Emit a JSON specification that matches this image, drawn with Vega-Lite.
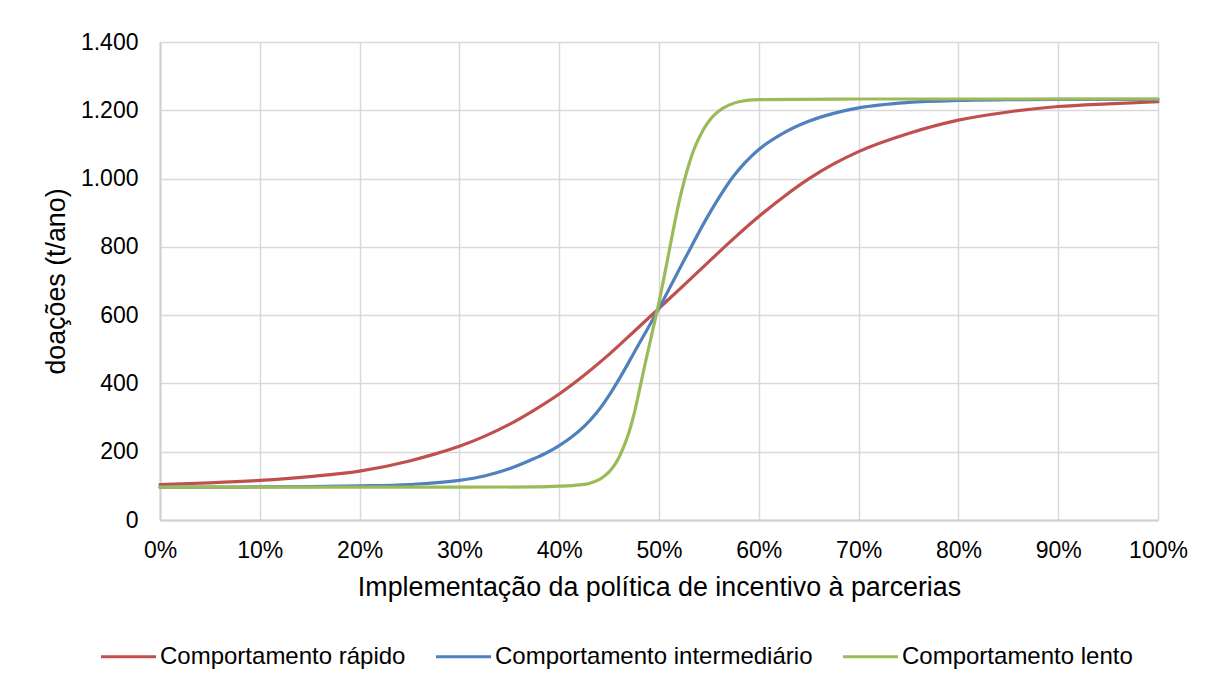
{
  "$schema": "https://vega.github.io/schema/vega-lite/v6.json",
  "width": 998,
  "height": 478,
  "autosize": "none",
  "padding": {"left": 160, "top": 42, "right": 47, "bottom": 160},
  "background": "#ffffff",
  "config": {
    "font": "Liberation Sans",
    "view": {"stroke": null},
    "locale": {
      "number": {"decimal": ",", "thousands": ".", "grouping": [3], "currency": ["R$", ""]}
    },
    "axis": {
      "labelFont": "Liberation Sans",
      "labelFontSize": 23,
      "labelColor": "#000000",
      "labelFlush": false,
      "labelOverlap": false,
      "titleFont": "Liberation Sans",
      "titleFontSize": 26.8,
      "titleFontWeight": "normal",
      "titleColor": "#000000",
      "gridColor": "#d9d9d9",
      "gridWidth": 1.5,
      "domainColor": "#d0d0d0",
      "domainWidth": 2,
      "ticks": false
    },
    "legend": {
      "labelFont": "Liberation Sans",
      "labelFontSize": 24,
      "labelColor": "#000000",
      "labelLimit": 500
    }
  },
  "data": {
    "values": [
      {"p": 0.00, "v": 104, "s": "Comportamento rápido"},
      {"p": 0.05, "v": 109, "s": "Comportamento rápido"},
      {"p": 0.10, "v": 116, "s": "Comportamento rápido"},
      {"p": 0.15, "v": 127, "s": "Comportamento rápido"},
      {"p": 0.20, "v": 143, "s": "Comportamento rápido"},
      {"p": 0.25, "v": 173, "s": "Comportamento rápido"},
      {"p": 0.275, "v": 193, "s": "Comportamento rápido"},
      {"p": 0.30, "v": 216, "s": "Comportamento rápido"},
      {"p": 0.325, "v": 245, "s": "Comportamento rápido"},
      {"p": 0.35, "v": 280, "s": "Comportamento rápido"},
      {"p": 0.375, "v": 322, "s": "Comportamento rápido"},
      {"p": 0.40, "v": 369, "s": "Comportamento rápido"},
      {"p": 0.425, "v": 424, "s": "Comportamento rápido"},
      {"p": 0.45, "v": 485, "s": "Comportamento rápido"},
      {"p": 0.475, "v": 552, "s": "Comportamento rápido"},
      {"p": 0.50, "v": 620, "s": "Comportamento rápido"},
      {"p": 0.525, "v": 688, "s": "Comportamento rápido"},
      {"p": 0.55, "v": 757, "s": "Comportamento rápido"},
      {"p": 0.575, "v": 825, "s": "Comportamento rápido"},
      {"p": 0.60, "v": 889, "s": "Comportamento rápido"},
      {"p": 0.625, "v": 947, "s": "Comportamento rápido"},
      {"p": 0.65, "v": 999, "s": "Comportamento rápido"},
      {"p": 0.675, "v": 1043, "s": "Comportamento rápido"},
      {"p": 0.70, "v": 1079, "s": "Comportamento rápido"},
      {"p": 0.75, "v": 1132, "s": "Comportamento rápido"},
      {"p": 0.80, "v": 1171, "s": "Comportamento rápido"},
      {"p": 0.85, "v": 1195, "s": "Comportamento rápido"},
      {"p": 0.90, "v": 1211, "s": "Comportamento rápido"},
      {"p": 0.95, "v": 1219, "s": "Comportamento rápido"},
      {"p": 1.00, "v": 1225, "s": "Comportamento rápido"},

      {"p": 0.00, "v": 96, "s": "Comportamento intermediário"},
      {"p": 0.05, "v": 96, "s": "Comportamento intermediário"},
      {"p": 0.10, "v": 97, "s": "Comportamento intermediário"},
      {"p": 0.15, "v": 98, "s": "Comportamento intermediário"},
      {"p": 0.20, "v": 100, "s": "Comportamento intermediário"},
      {"p": 0.25, "v": 104, "s": "Comportamento intermediário"},
      {"p": 0.30, "v": 116, "s": "Comportamento intermediário"},
      {"p": 0.325, "v": 129, "s": "Comportamento intermediário"},
      {"p": 0.35, "v": 150, "s": "Comportamento intermediário"},
      {"p": 0.375, "v": 180, "s": "Comportamento intermediário"},
      {"p": 0.3875, "v": 197, "s": "Comportamento intermediário"},
      {"p": 0.40, "v": 218, "s": "Comportamento intermediário"},
      {"p": 0.4125, "v": 243, "s": "Comportamento intermediário"},
      {"p": 0.425, "v": 274, "s": "Comportamento intermediário"},
      {"p": 0.4375, "v": 314, "s": "Comportamento intermediário"},
      {"p": 0.45, "v": 365, "s": "Comportamento intermediário"},
      {"p": 0.4625, "v": 425, "s": "Comportamento intermediário"},
      {"p": 0.475, "v": 490, "s": "Comportamento intermediário"},
      {"p": 0.50, "v": 620, "s": "Comportamento intermediário"},
      {"p": 0.525, "v": 760, "s": "Comportamento intermediário"},
      {"p": 0.55, "v": 895, "s": "Comportamento intermediário"},
      {"p": 0.575, "v": 1008, "s": "Comportamento intermediário"},
      {"p": 0.60, "v": 1085, "s": "Comportamento intermediário"},
      {"p": 0.625, "v": 1134, "s": "Comportamento intermediário"},
      {"p": 0.65, "v": 1168, "s": "Comportamento intermediário"},
      {"p": 0.675, "v": 1191, "s": "Comportamento intermediário"},
      {"p": 0.70, "v": 1207, "s": "Comportamento intermediário"},
      {"p": 0.75, "v": 1223, "s": "Comportamento intermediário"},
      {"p": 0.80, "v": 1229, "s": "Comportamento intermediário"},
      {"p": 0.85, "v": 1231, "s": "Comportamento intermediário"},
      {"p": 0.90, "v": 1232, "s": "Comportamento intermediário"},
      {"p": 1.00, "v": 1232, "s": "Comportamento intermediário"},

      {"p": 0.00, "v": 96, "s": "Comportamento lento"},
      {"p": 0.10, "v": 96, "s": "Comportamento lento"},
      {"p": 0.20, "v": 96, "s": "Comportamento lento"},
      {"p": 0.30, "v": 96, "s": "Comportamento lento"},
      {"p": 0.38, "v": 97, "s": "Comportamento lento"},
      {"p": 0.40, "v": 99, "s": "Comportamento lento"},
      {"p": 0.42, "v": 103, "s": "Comportamento lento"},
      {"p": 0.43, "v": 107, "s": "Comportamento lento"},
      {"p": 0.435, "v": 112, "s": "Comportamento lento"},
      {"p": 0.44, "v": 118, "s": "Comportamento lento"},
      {"p": 0.445, "v": 128, "s": "Comportamento lento"},
      {"p": 0.45, "v": 141, "s": "Comportamento lento"},
      {"p": 0.455, "v": 159, "s": "Comportamento lento"},
      {"p": 0.46, "v": 184, "s": "Comportamento lento"},
      {"p": 0.465, "v": 217, "s": "Comportamento lento"},
      {"p": 0.47, "v": 258, "s": "Comportamento lento"},
      {"p": 0.475, "v": 310, "s": "Comportamento lento"},
      {"p": 0.48, "v": 375, "s": "Comportamento lento"},
      {"p": 0.485, "v": 443, "s": "Comportamento lento"},
      {"p": 0.49, "v": 508, "s": "Comportamento lento"},
      {"p": 0.495, "v": 572, "s": "Comportamento lento"},
      {"p": 0.50, "v": 638, "s": "Comportamento lento"},
      {"p": 0.505, "v": 710, "s": "Comportamento lento"},
      {"p": 0.51, "v": 785, "s": "Comportamento lento"},
      {"p": 0.515, "v": 860, "s": "Comportamento lento"},
      {"p": 0.52, "v": 930, "s": "Comportamento lento"},
      {"p": 0.525, "v": 990, "s": "Comportamento lento"},
      {"p": 0.53, "v": 1042, "s": "Comportamento lento"},
      {"p": 0.535, "v": 1085, "s": "Comportamento lento"},
      {"p": 0.54, "v": 1118, "s": "Comportamento lento"},
      {"p": 0.545, "v": 1146, "s": "Comportamento lento"},
      {"p": 0.55, "v": 1168, "s": "Comportamento lento"},
      {"p": 0.555, "v": 1185, "s": "Comportamento lento"},
      {"p": 0.56, "v": 1198, "s": "Comportamento lento"},
      {"p": 0.57, "v": 1215, "s": "Comportamento lento"},
      {"p": 0.58, "v": 1225, "s": "Comportamento lento"},
      {"p": 0.60, "v": 1231, "s": "Comportamento lento"},
      {"p": 0.70, "v": 1233, "s": "Comportamento lento"},
      {"p": 0.85, "v": 1233, "s": "Comportamento lento"},
      {"p": 1.00, "v": 1233, "s": "Comportamento lento"}
    ]
  },
  "mark": {"type": "line", "strokeWidth": 3.2, "interpolate": "monotone", "strokeCap": "round"},
  "encoding": {
    "x": {
      "field": "p",
      "type": "quantitative",
      "scale": {"domain": [0, 1], "nice": false},
      "axis": {
        "values": [0, 0.1, 0.2, 0.3, 0.4, 0.5, 0.6, 0.7, 0.8, 0.9, 1],
        "format": ".0%",
        "labelPadding": 19,
        "titlePadding": 12,
        "title": "Implementação da política de incentivo à parcerias"
      }
    },
    "y": {
      "field": "v",
      "type": "quantitative",
      "scale": {"domain": [0, 1400], "nice": false},
      "axis": {
        "values": [0, 200, 400, 600, 800, 1000, 1200, 1400],
        "format": ",.0f",
        "labelPadding": 22,
        "titlePadding": 10,
        "title": "doações (t/ano)"
      }
    },
    "color": {
      "field": "s",
      "type": "nominal",
      "sort": ["Comportamento rápido", "Comportamento intermediário", "Comportamento lento"],
      "scale": {
        "domain": ["Comportamento rápido", "Comportamento intermediário", "Comportamento lento"],
        "range": ["#C0504D", "#4F81BD", "#9BBB59"]
      },
      "legend": {
        "title": null,
        "orient": "none",
        "direction": "horizontal",
        "legendX": -61,
        "legendY": 585,
        "symbolType": "stroke",
        "symbolSize": 3025,
        "symbolStrokeWidth": 3.2,
        "labelOffset": 2,
        "columnPadding": 23,
        "padding": 0
      }
    }
  }
}
